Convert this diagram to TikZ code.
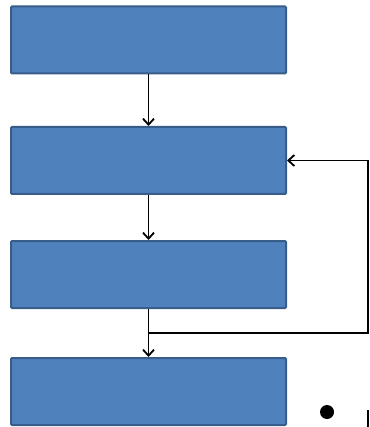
\documentclass[tikz,border=0pt]{standalone}
\usepackage{tikz}
\usetikzlibrary{arrows.meta, positioning}

\definecolor{boxfill}{HTML}{4F81BD}
\definecolor{boxline}{HTML}{385D8A}

\tikzset{
    stagebox/.style={draw=boxline, fill=boxfill, line width=2pt, rounded corners=1pt,
        minimum width=275pt, minimum height=67pt, inner sep=0pt},
    flow/.style={-{Straight Barb[length=6pt, width=11pt, line width=1.8pt]}, line width=1.8pt}
}

\begin{document}
\begin{tikzpicture}[x=1pt, y=-1pt]
    \useasboundingbox (0,0) rectangle (369,427);
    \node[stagebox] (stage1) at (148.5, 40) {};
    \node[stagebox] (stage2) at (148.5, 160.5) {};
    \node[stagebox] (stage3) at (148.5, 274.5) {};
    \node[stagebox] (stage4) at (148.5, 391.5) {};
    \draw[flow] (stage1) -- (stage2);
    \draw[flow] (stage2) -- (stage3);
    \draw[flow] (stage3) -- (stage4);
    \coordinate (split) at (148.5, 333);
    \coordinate (turn) at (368, 333);
    \draw[flow] (split) -- (turn) |- (stage2.east);
    \fill (327, 412) circle (7pt);
    \fill (366.5, 410) rectangle (369, 427);
\end{tikzpicture}
\end{document}
